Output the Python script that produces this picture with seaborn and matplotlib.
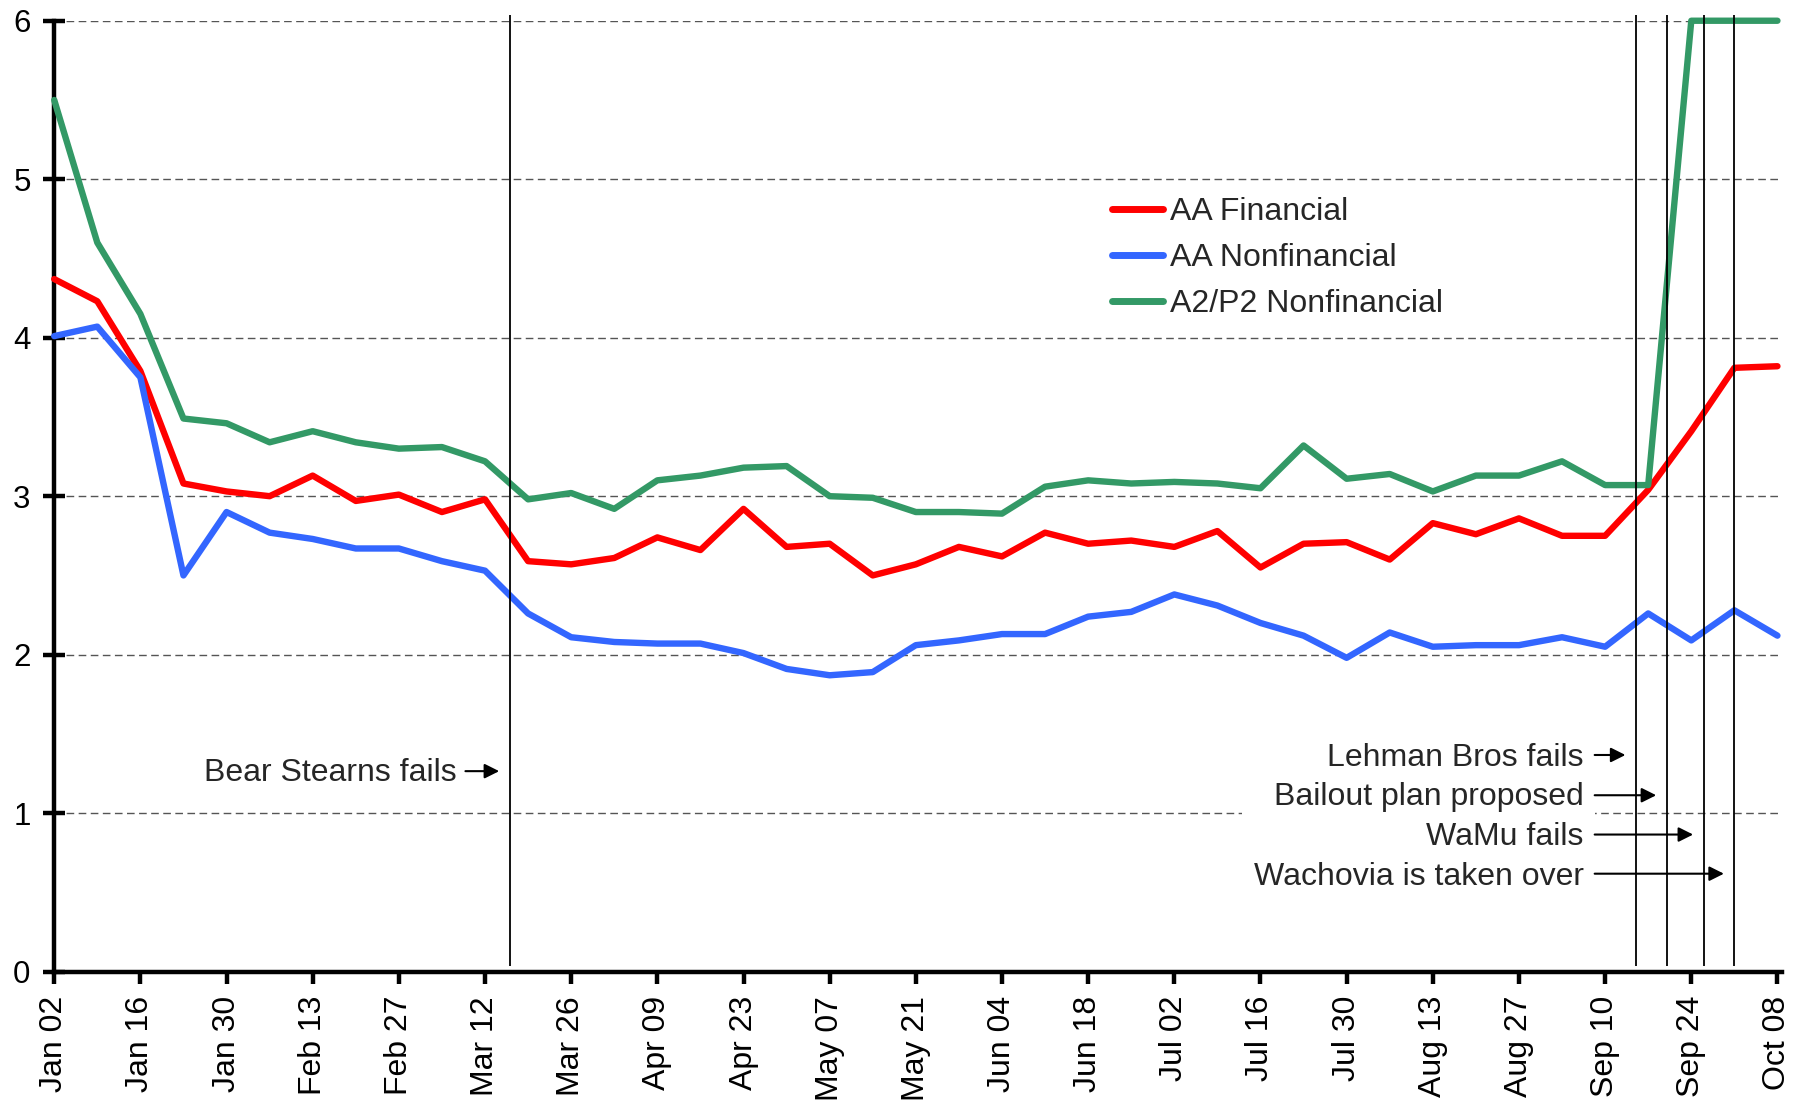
import pandas as pd
import numpy as np
import seaborn as sns
import matplotlib.pyplot as plt
import matplotlib.dates as mdates

# weekly commercial paper rates, 2008
dates = pd.date_range('2008-01-02', periods=41, freq='7D')

aa_financial = [4.37, 4.23, 3.79, 3.08, 3.03, 3.00, 3.13, 2.97, 3.01, 2.90,
                2.98, 2.59, 2.57, 2.61, 2.74, 2.66, 2.92, 2.68, 2.70, 2.50,
                2.57, 2.68, 2.62, 2.77, 2.70, 2.72, 2.68, 2.78, 2.55, 2.70,
                2.71, 2.60, 2.83, 2.76, 2.86, 2.75, 2.75, 3.04, 3.41, 3.81,
                3.82]
aa_nonfinancial = [4.01, 4.07, 3.75, 2.50, 2.90, 2.77, 2.73, 2.67, 2.67, 2.59,
                   2.53, 2.26, 2.11, 2.08, 2.07, 2.07, 2.01, 1.91, 1.87, 1.89,
                   2.06, 2.09, 2.13, 2.13, 2.24, 2.27, 2.38, 2.31, 2.20, 2.12,
                   1.98, 2.14, 2.05, 2.06, 2.06, 2.11, 2.05, 2.26, 2.09, 2.28,
                   2.12]
a2p2_nonfinancial = [5.50, 4.60, 4.15, 3.49, 3.46, 3.34, 3.41, 3.34, 3.30, 3.31,
                     3.22, 2.98, 3.02, 2.92, 3.10, 3.13, 3.18, 3.19, 3.00, 2.99,
                     2.90, 2.90, 2.89, 3.06, 3.10, 3.08, 3.09, 3.08, 3.05, 3.32,
                     3.11, 3.14, 3.03, 3.13, 3.13, 3.22, 3.07, 3.07, 6.00, 6.00,
                     6.00]

series_names = ['AA Financial', 'AA Nonfinancial', 'A2/P2 Nonfinancial']
series_colors = ['#FF0000', '#3366FF', '#339966']

event_dates = pd.to_datetime(['2008-03-16', '2008-09-15', '2008-09-20',
                              '2008-09-26', '2008-10-01'])
event_labels = ['Bear Stearns fails', 'Lehman Bros fails', 'Bailout plan proposed',
                'WaMu fails', 'Wachovia is taken over']
event_label_y = [1.265, 1.367, 1.113, 0.865, 0.618]
# where the label texts end (right edge)
bear_text_end = pd.Timestamp('2008-03-07 10:00')
crisis_text_end = pd.Timestamp('2008-09-06 12:00')

df = pd.DataFrame({
    'date': np.tile(dates, 3),
    'value': aa_financial + aa_nonfinancial + a2p2_nonfinancial,
    'series': np.repeat(series_names, len(dates)),
})

sns.set_style('white')
plt.rcParams['font.family'] = ['Liberation Sans', 'DejaVu Sans']

fig = plt.figure(figsize=(18.07, 11.03), dpi=100)
ax = fig.add_axes([0.030, 0.1191, 0.9562, 0.8621])

sns.lineplot(data=df, x='date', y='value', hue='series',
             palette=dict(zip(series_names, series_colors)),
             linewidth=4.6, ax=ax, clip_on=False, zorder=3)

# event lines
ax.vlines(event_dates, 0.035, 6.035, color='black', lw=1.3, zorder=4, clip_on=False)

day = pd.Timedelta(days=1)
ax.text(bear_text_end, event_label_y[0] - 0.012, event_labels[0], ha='right',
        va='center', fontsize=23, zorder=5)
# multi-line block, its box hides the gridline behind it
ax.text(crisis_text_end, np.mean(event_label_y[1:]) - 0.016, '\n'.join(event_labels[1:]),
        ha='right', va='center', multialignment='right', fontsize=23,
        linespacing=1.42, zorder=5,
        bbox=dict(facecolor='white', edgecolor='none', pad=8))

arrow_style = dict(arrowstyle='-|>', color='black', lw=1.5, mutation_scale=22,
                   shrinkA=0, shrinkB=0)
ax.annotate('', xy=(event_dates[0] - 1.7 * day, event_label_y[0]),
            xytext=(bear_text_end + 1.4 * day, event_label_y[0]),
            arrowprops=arrow_style, zorder=6)
for d, y in zip(event_dates[1:], event_label_y[1:]):
    ax.annotate('', xy=(d - 1.7 * day, y),
                xytext=(crisis_text_end + 1.8 * day, y),
                arrowprops=arrow_style, zorder=6)

# axes
ax.set_xlim(dates[0], dates[-1] + pd.Timedelta(hours=18))
ax.set_ylim(0, 6)
ax.set_yticks(range(0, 7))
ax.set_xticks(dates[::2])
ax.xaxis.set_major_formatter(mdates.DateFormatter('%b %d'))
ax.tick_params(axis='x', bottom=True, direction='out', length=8.5, width=3.2, pad=9,
               labelsize=23, labelrotation=90, colors='black')
ax.tick_params(axis='y', left=True, direction='inout', length=16, width=3.2, pad=9,
               labelsize=22.5, colors='black')
ax.yaxis.grid(True, linestyle=(0, (5.5, 3.2)), color='#555555', lw=1)
ax.xaxis.grid(False)
ax.set_axisbelow(True)
for s in ['top', 'right']:
    ax.spines[s].set_visible(False)
for s in ['left', 'bottom']:
    ax.spines[s].set_linewidth(3.2)
    ax.spines[s].set_color('black')
ax.set_xlabel('')
ax.set_ylabel('')

leg = ax.legend(loc='center left', bbox_to_anchor=(0.612, 0.750), frameon=False,
                fontsize=23, borderpad=0, borderaxespad=0, handlelength=1.62,
                handletextpad=0.2, labelspacing=0.5)
for h in leg.get_lines():
    h.set_linewidth(5)
    h.set_solid_capstyle('round')

fig.savefig('out.png', dpi=100)
